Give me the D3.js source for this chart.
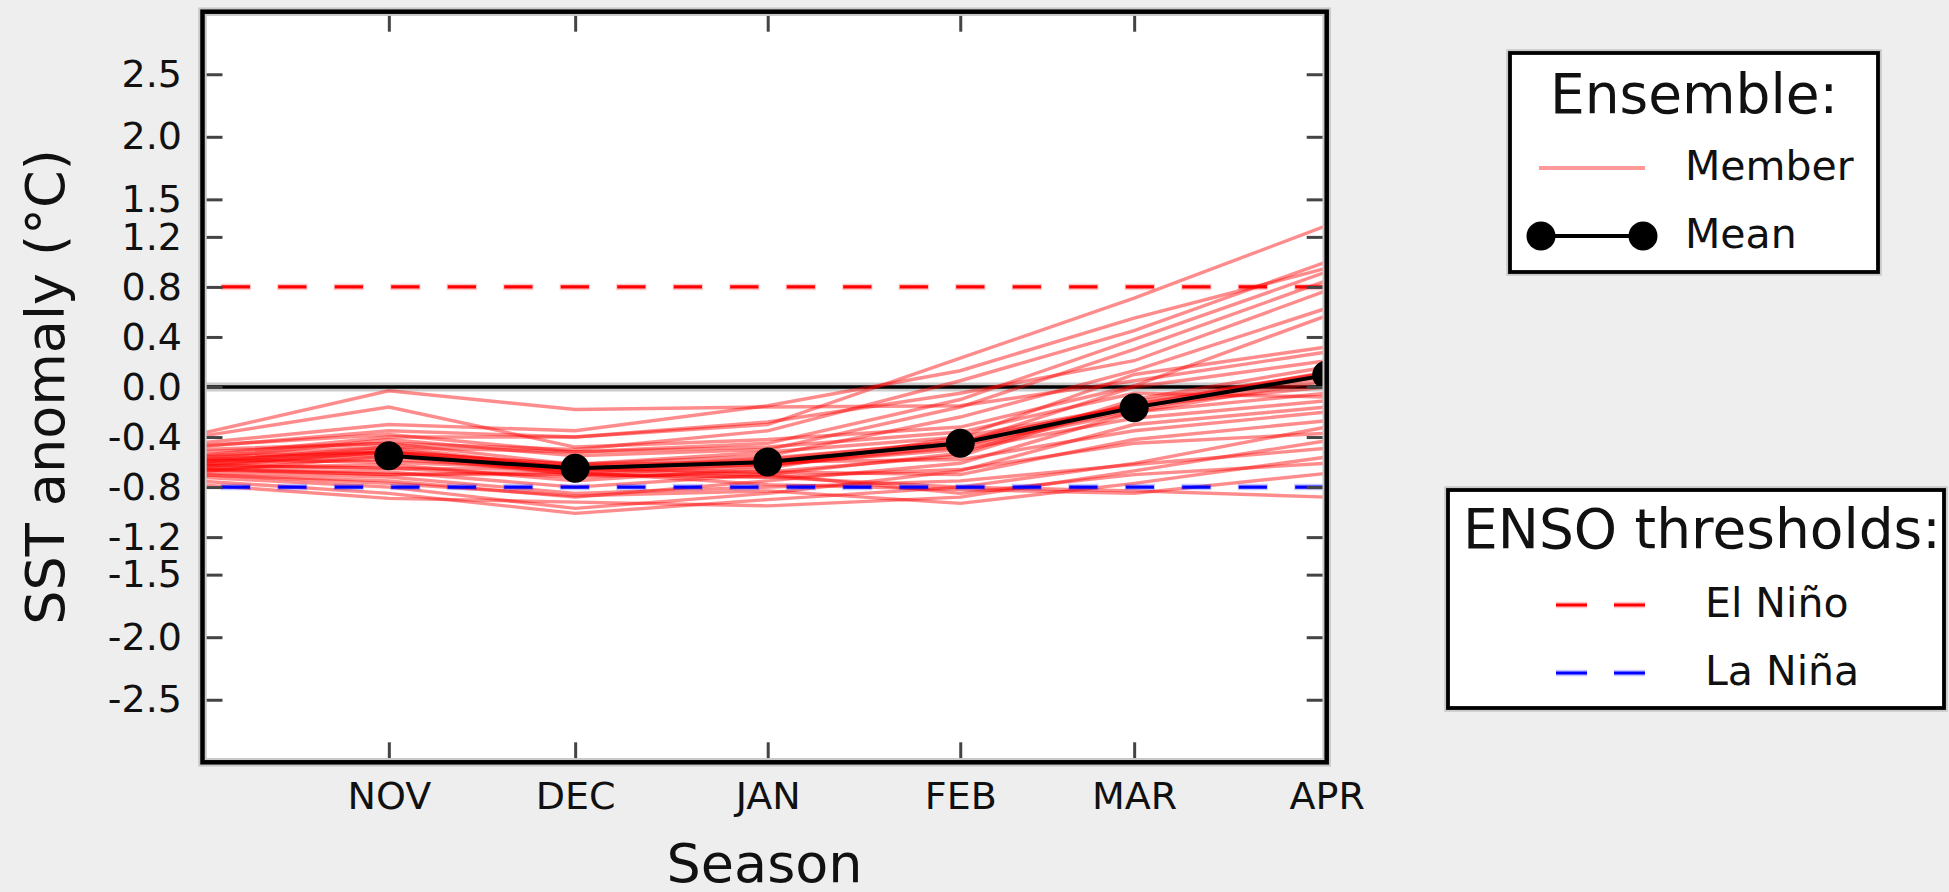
<!DOCTYPE html>
<html>
<head>
<meta charset="utf-8">
<script src="https://cdn.jsdelivr.net/npm/d3@7"></script>
<style>
html,body{margin:0;padding:0;background:#eeeeee;}
svg{display:block;font-family:"DejaVu Sans",sans-serif;}
</style>
</head>
<body>
<svg id="chart" width="1949" height="892"></svg>
<script>
// ---------------- data ----------------
const months = ["NOV", "DEC", "JAN", "FEB", "MAR", "APR"];
const monthDates = ["2016-11-01", "2016-12-01", "2017-01-01", "2017-02-01", "2017-03-01", "2017-04-01"];
const memberStartDate = "2016-10-01";
const axisStart = "2016-10-02";
const axisEnd = "2017-04-01";

const yTicks = [2.5, 2.0, 1.5, 1.2, 0.8, 0.4, 0.0, -0.4, -0.8, -1.2, -1.5, -2.0, -2.5];
const yTickLabels = ["2.5", "2.0", "1.5", "1.2", "0.8", "0.4", "0.0", "-0.4", "-0.8", "-1.2", "-1.5", "-2.0", "-2.5"];
const yDomain = [-3, 3];

// ensemble members: [start, NOV, DEC, JAN, FEB, MAR, APR]
const members = [
  [-0.55, -0.40, -0.40, -0.30,  0.23,  0.71,  1.29],
  [-0.50, -0.45, -0.50, -0.35,  0.05,  0.45,  1.00],
  [-0.45, -0.30, -0.35, -0.15,  0.13,  0.55,  0.95],
  [-0.60, -0.48, -0.52, -0.45, -0.10,  0.38,  0.92],
  [-0.58, -0.42, -0.55, -0.50, -0.16,  0.30,  0.85],
  [-0.48, -0.35, -0.40, -0.28, -0.05,  0.21,  0.77],
  [-0.62, -0.52, -0.62, -0.55, -0.24,  0.13,  0.63],
  [-0.40, -0.16, -0.48, -0.42, -0.32,  0.01,  0.57],
  [-0.65, -0.62, -0.75, -0.65, -0.40,  0.10,  0.32],
  [-0.38, -0.03, -0.18, -0.16, -0.15,  0.05,  0.28],
  [-0.55, -0.48, -0.65, -0.60, -0.45,  0.00,  0.21],
  [-0.66, -0.68, -0.80, -0.70, -0.53, -0.10,  0.16],
  [-0.60, -0.50, -0.65, -0.68, -0.55, -0.12,  0.11],
  [-0.52, -0.45, -0.62, -0.52, -0.40, -0.15,  0.00],
  [-0.70, -0.75, -0.88, -0.75, -0.61, -0.20, -0.05],
  [-0.58, -0.52, -0.68, -0.62, -0.50, -0.25, -0.11],
  [-0.72, -0.80, -0.97, -0.85, -0.67, -0.30, -0.16],
  [-0.56, -0.52, -0.62, -0.60, -0.58, -0.35, -0.20],
  [-0.63, -0.65, -0.72, -0.68, -0.70, -0.42, -0.27],
  [-0.75, -0.85, -1.01, -0.90, -0.80, -0.61, -0.32],
  [-0.65, -0.70, -0.70, -0.72, -0.66, -0.45, -0.37],
  [-0.78, -0.89, -0.92, -0.95, -0.88, -0.67, -0.43],
  [-0.68, -0.72, -0.85, -0.80, -0.75, -0.62, -0.49],
  [-0.70, -0.77, -0.87, -0.83, -0.93, -0.77, -0.56],
  [-0.62, -0.65, -0.66, -0.70, -0.85, -0.70, -0.61],
  [-0.66, -0.70, -0.68, -0.78, -0.82, -0.85, -0.69],
  [-0.60, -0.55, -0.70, -0.72, -0.80, -0.83, -0.88],
  [-0.47, -0.38, -0.52, -0.48, -0.36, -0.05, -0.08],
  [-0.62, -0.58, -0.66, -0.62, -0.47, -0.18,  0.08],
  [-0.68, -0.55, -0.64, -0.58, -0.43, -0.15,  0.12],
  [-0.64, -0.52, -0.70, -0.63, -0.48, -0.20,  0.05],
  [-0.58, -0.60, -0.66, -0.57, -0.44, -0.14,  0.11]
];

// ensemble mean at each month
const meanValues = [-0.55, -0.65, -0.60, -0.45, -0.165, 0.095];

const elNinoThreshold = 0.8;
const laNinaThreshold = -0.8;

const legendEnsembleTitle = "Ensemble:";
const legendEnsembleLabels = ["Member", "Mean"];
const legendEnsoTitle = "ENSO thresholds:";
const legendEnsoLabels = ["El Niño", "La Niña"];
const xAxisLabel = "Season";
const yAxisLabel = "SST anomaly (°C)";

// ---------------- drawing ----------------
const svg = d3.select("#chart");
const P = {left: 202.5, right: 1326.7, top: 11.7, bottom: 762.3};
const parse = d3.utcParse("%Y-%m-%d");

const x = d3.scaleUtc().domain([parse(axisStart), parse(axisEnd)]).range([P.left, P.right]);
const y = d3.scaleLinear().domain(yDomain).range([P.bottom, P.top]);

svg.append("rect").attr("width", 1949).attr("height", 892).attr("fill", "#eeeeee");

// plot background
svg.append("rect")
  .attr("x", P.left).attr("y", P.top)
  .attr("width", P.right - P.left).attr("height", P.bottom - P.top)
  .attr("fill", "#ffffff");

svg.append("clipPath").attr("id", "plotclip")
  .append("rect")
  .attr("x", P.left).attr("y", P.top)
  .attr("width", P.right - P.left).attr("height", P.bottom - P.top);

const gPlot = svg.append("g").attr("clip-path", "url(#plotclip)");

// zero line
gPlot.append("line")
  .attr("x1", P.left).attr("x2", P.right)
  .attr("y1", y(0)).attr("y2", y(0))
  .attr("stroke", "#cccccc").attr("stroke-width", 9);
gPlot.append("line")
  .attr("x1", P.left).attr("x2", P.right)
  .attr("y1", y(0)).attr("y2", y(0))
  .attr("stroke", "#000000").attr("stroke-width", 3.6);

// members
const memberDates = [memberStartDate].concat(monthDates).map(parse);
const line = d3.line().x(d => x(d[0])).y(d => y(d[1]));
gPlot.append("g").selectAll("path")
  .data(members)
  .join("path")
  .attr("d", vals => line(vals.map((v, i) => [memberDates[i], v])))
  .attr("fill", "none")
  .attr("stroke", "#ff0000")
  .attr("stroke-opacity", 0.45)
  .attr("stroke-width", 3.4);

// thresholds
const dashPeriod = 56.5;
const dashOffset = dashPeriod - 19.2;
[[elNinoThreshold, "#ff0000"], [laNinaThreshold, "#0000ff"]].forEach(([t, c]) => {
  gPlot.append("line")
    .attr("x1", P.left).attr("x2", P.right)
    .attr("y1", y(t)).attr("y2", y(t))
    .attr("stroke", c).attr("stroke-opacity", 0.22).attr("stroke-width", 6.5)
    .attr("stroke-dasharray", "30.25 26.25").attr("stroke-dashoffset", dashOffset + 1);
  gPlot.append("line")
    .attr("x1", P.left).attr("x2", P.right)
    .attr("y1", y(t)).attr("y2", y(t))
    .attr("stroke", c).attr("stroke-width", 3.2)
    .attr("stroke-dasharray", "28.25 28.25").attr("stroke-dashoffset", dashOffset);
});

// mean
const meanPts = monthDates.map((d, i) => [parse(d), meanValues[i]]);
gPlot.append("path")
  .attr("d", line(meanPts))
  .attr("fill", "none").attr("stroke", "#000").attr("stroke-width", 4);
gPlot.append("g").selectAll("circle")
  .data(meanPts).join("circle")
  .attr("cx", d => x(d[0])).attr("cy", d => y(d[1]))
  .attr("r", 14.5).attr("fill", "#000");

// axes (inward ticks)
const tickColor = "#444444";
function styleAxis(g) {
  g.select(".domain").remove();
  g.selectAll(".tick line").attr("stroke", tickColor).attr("stroke-width", 3);
  g.selectAll(".tick text").attr("fill", "#111").attr("font-size", 38)
    .attr("font-family", "DejaVu Sans");
}
svg.append("g").attr("transform", `translate(${P.left},0)`)
  .call(d3.axisLeft(y).tickValues(yTicks).tickSize(-20).tickPadding(20.5)
    .tickFormat((d, i) => yTickLabels[i]))
  .call(styleAxis);
svg.append("g").attr("transform", `translate(${P.right},0)`)
  .call(d3.axisRight(y).tickValues(yTicks).tickSize(-20).tickFormat(""))
  .call(styleAxis);
const monthParsed = monthDates.map(parse);
svg.append("g").attr("transform", `translate(0,${P.bottom})`)
  .call(d3.axisBottom(x).tickValues(monthParsed).tickSize(-20).tickPadding(20)
    .tickFormat((d, i) => months[i]))
  .call(styleAxis);
svg.append("g").attr("transform", `translate(0,${P.top})`)
  .call(d3.axisTop(x).tickValues(monthParsed).tickSize(-20).tickFormat(""))
  .call(styleAxis);

// frame
svg.append("rect")
  .attr("x", P.left).attr("y", P.top)
  .attr("width", P.right - P.left).attr("height", P.bottom - P.top)
  .attr("fill", "none").attr("stroke", "#c8c8c8").attr("stroke-width", 8.5);
svg.append("rect")
  .attr("x", P.left).attr("y", P.top)
  .attr("width", P.right - P.left).attr("height", P.bottom - P.top)
  .attr("fill", "none").attr("stroke", "#000").attr("stroke-width", 4.5);

// axis labels
svg.append("text")
  .attr("x", (P.left + P.right) / 2).attr("y", 882)
  .attr("text-anchor", "middle").attr("font-size", 54).attr("fill", "#111")
  .text(xAxisLabel);
svg.append("text")
  .attr("transform", `translate(64,${(P.top + P.bottom) / 2}) rotate(-90)`)
  .attr("text-anchor", "middle").attr("font-size", 54).attr("fill", "#111")
  .text(yAxisLabel);

// legends
function legendBox(x0, y0, x1, y1) {
  svg.append("rect").attr("x", x0).attr("y", y0).attr("width", x1 - x0).attr("height", y1 - y0)
    .attr("fill", "#fff").attr("stroke", "#c8c8c8").attr("stroke-width", 7.5);
  svg.append("rect").attr("x", x0).attr("y", y0).attr("width", x1 - x0).attr("height", y1 - y0)
    .attr("fill", "#fff").attr("stroke", "#000").attr("stroke-width", 3.8);
}

// Ensemble legend
legendBox(1510, 53, 1878, 272);
svg.append("text").attr("x", 1694).attr("y", 113).attr("text-anchor", "middle")
  .attr("font-size", 55).attr("fill", "#111").text(legendEnsembleTitle);
svg.append("line").attr("x1", 1539).attr("x2", 1645).attr("y1", 168).attr("y2", 168)
  .attr("stroke", "#ff0000").attr("stroke-opacity", 0.4).attr("stroke-width", 4);
svg.append("text").attr("x", 1685).attr("y", 180).attr("font-size", 41).attr("fill", "#111")
  .text(legendEnsembleLabels[0]);
svg.append("line").attr("x1", 1541).attr("x2", 1643).attr("y1", 236).attr("y2", 236)
  .attr("stroke", "#000").attr("stroke-width", 4);
[1541, 1643].forEach(cx => svg.append("circle").attr("cx", cx).attr("cy", 236).attr("r", 14.5).attr("fill", "#000"));
svg.append("text").attr("x", 1685).attr("y", 248).attr("font-size", 41).attr("fill", "#111")
  .text(legendEnsembleLabels[1]);

// ENSO legend
legendBox(1448, 490, 1944, 708);
svg.append("text").attr("x", 1463).attr("y", 548)
  .attr("font-size", 55).attr("fill", "#111").text(legendEnsoTitle);
[[605, 617, "#ff0000", 0], [673, 685, "#0000ff", 1]].forEach(([ly, ty, c, i]) => {
  svg.append("line").attr("x1", 1556).attr("x2", 1645).attr("y1", ly).attr("y2", ly)
    .attr("stroke", c).attr("stroke-opacity", 0.22).attr("stroke-width", 6.5)
    .attr("stroke-dasharray", "31 27");
  svg.append("line").attr("x1", 1556).attr("x2", 1645).attr("y1", ly).attr("y2", ly)
    .attr("stroke", c).attr("stroke-width", 3.2).attr("stroke-dasharray", "31 27");
  svg.append("text").attr("x", 1705).attr("y", ty).attr("font-size", 41).attr("fill", "#111")
    .text(legendEnsoLabels[i]);
});
</script>
</body>
</html>
